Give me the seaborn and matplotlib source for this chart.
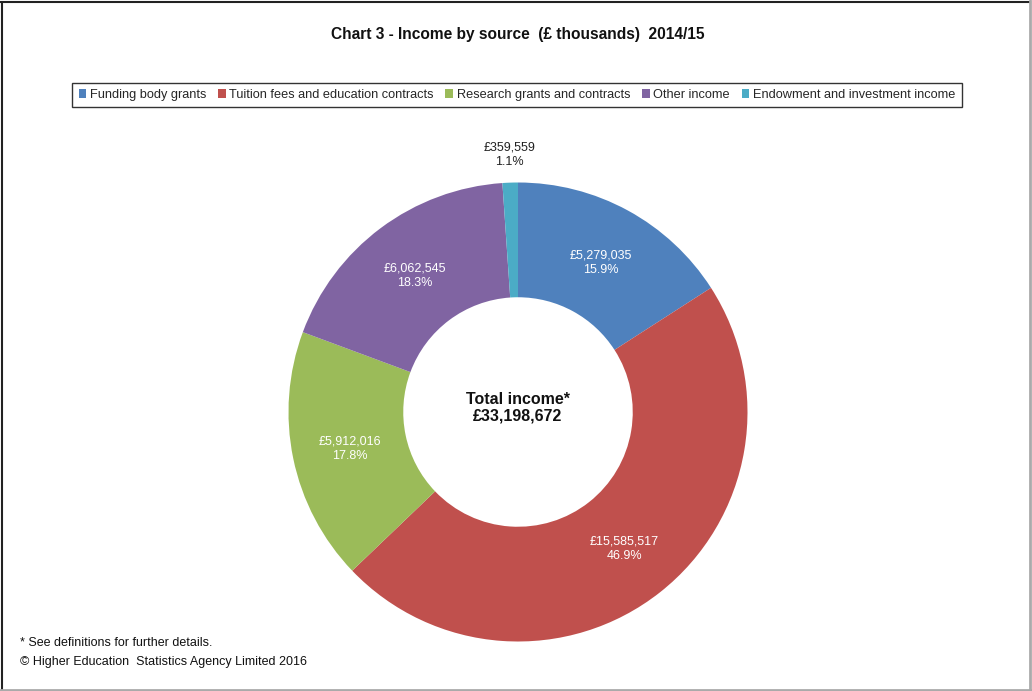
import matplotlib
matplotlib.use("Agg")
import numpy as np
import matplotlib.pyplot as plt
import seaborn as sns
from matplotlib.lines import Line2D
from matplotlib.patches import Patch

categories = ["Funding body grants", "Tuition fees and education contracts",
              "Research grants and contracts", "Other income",
              "Endowment and investment income"]
values = [5279035, 15585517, 5912016, 6062545, 359559]
percent_labels = ["15.9%", "46.9%", "17.8%", "18.3%", "1.1%"]
total_income = 33198672
colors = ["#4F81BD", "#C0504D", "#9BBB59", "#8064A2", "#4BACC6"]

sns.set_style("white")
plt.rcParams["font.family"] = ["Liberation Sans", "DejaVu Sans"]

W, H = 1032, 691
fig = plt.figure(figsize=(W / 100, H / 100), dpi=100)

# donut centre and radius in pixels
cx, cy, R = 518, H - 412, 229.5
lim = 1.2
size = 2 * lim * R
ax = fig.add_axes([(cx - size / 2) / W, (cy - size / 2) / H, size / W, size / H])

wedges, _ = ax.pie(values, colors=sns.color_palette(colors), startangle=90,
                   counterclock=False, radius=1.0,
                   wedgeprops=dict(width=0.5, edgecolor="none"))
ax.set_xlim(-lim, lim)
ax.set_ylim(-lim, lim)
ax.set_aspect("equal")
ax.axis("off")

for i, w in enumerate(wedges):
    ang = np.deg2rad((w.theta1 + w.theta2) / 2)
    txt = f"£{values[i]:,}\n{percent_labels[i]}"
    if i == len(values) - 1:
        r, col = 1.13, "#222222"
    else:
        r, col = 0.75, "white"
    ax.text(r * np.cos(ang), r * np.sin(ang) - 0.007, txt, ha="center", va="center",
            color=col, fontsize=9, linespacing=1.3)

ax.text(0, 0.02, f"Total income*\n£{total_income:,}", ha="center", va="center",
        fontsize=11.5, fontweight="bold", color="#111111", linespacing=1.15)

fig.text(518 / W, 1 - 35 / H, "Chart 3 - Income by source  (£ thousands)  2014/15",
         ha="center", va="center", fontsize=11.2, fontweight="bold", color="#111111")

handles = [Patch(facecolor=c, edgecolor="none") for c in colors]
leg = fig.legend(handles, categories, loc="center", bbox_to_anchor=(517 / W, 1 - 95 / H),
                 ncol=5, fontsize=9.2, frameon=True, fancybox=False,
                 handlelength=0.6, handleheight=0.6, handletextpad=0.3,
                 columnspacing=0.9, borderpad=0.5)
leg.get_frame().set_edgecolor("black")
leg.get_frame().set_linewidth(1.0)

fig.text(20 / W, 1 - 643 / H, "* See definitions for further details.",
         ha="left", va="center", fontsize=9, color="#111111")
fig.text(20 / W, 1 - 662 / H, "© Higher Education  Statistics Agency Limited 2016",
         ha="left", va="center", fontsize=9, color="#111111")

# frame with shadow-like right/bottom edges
fig.add_artist(Line2D([1.5 / W, 1.5 / W], [0, 1 - 1.5 / H], color="#222222", lw=1.5))
fig.add_artist(Line2D([0, 1 - 2 / W], [1 - 1.5 / H, 1 - 1.5 / H], color="#222222", lw=1.5))
fig.add_artist(Line2D([1 - 2 / W, 1 - 2 / W], [1.5 / H, 1], color="#AAAAAA", lw=2))
fig.add_artist(Line2D([0, 1], [1.5 / H, 1.5 / H], color="#AAAAAA", lw=2))

fig.savefig("out.png", dpi=100)
